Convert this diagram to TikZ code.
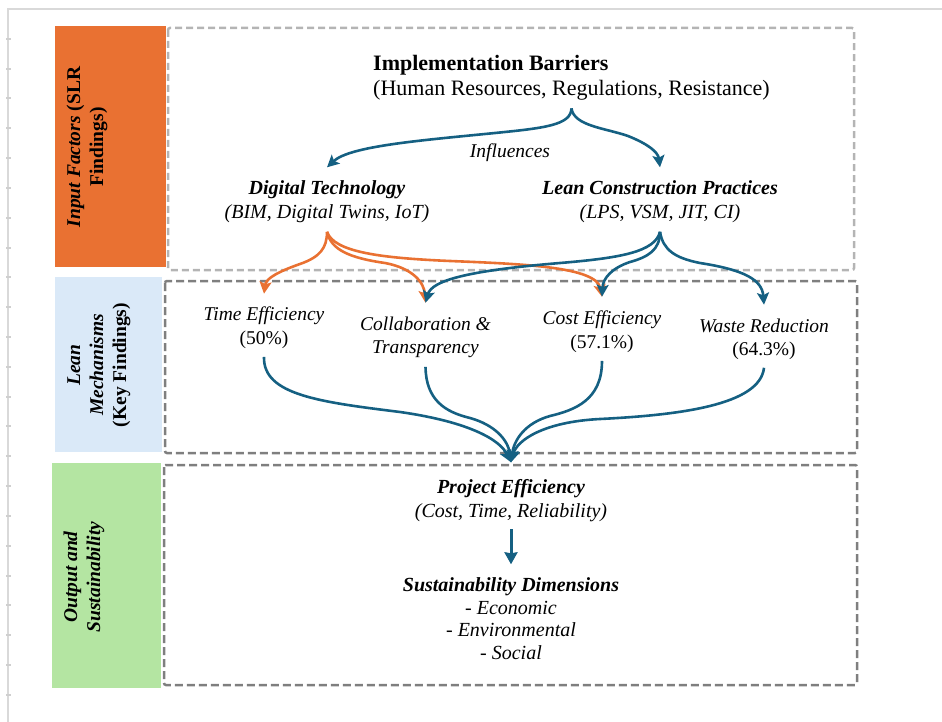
\documentclass[tikz,border=0pt]{standalone}
\usepackage{fontspec}
\setmainfont{Liberation Serif}
\usetikzlibrary{arrows.meta}
\definecolor{accblue}{HTML}{156082}
\definecolor{accorange}{HTML}{E97132}
\definecolor{barblue}{HTML}{DAE9F8}
\definecolor{bargreen}{HTML}{B4E5A2}
\definecolor{lightdash}{HTML}{B4B4B4}
\definecolor{darkdash}{HTML}{7F7F7F}
\definecolor{framegray}{HTML}{D9D9D9}
\definecolor{tickgray}{HTML}{CFCFCF}
\newcommand\fsz[2]{\fontsize{#1}{#2}\selectfont}

\begin{document}
\begin{tikzpicture}[x=1pt,y=-1pt,
  txt/.style={inner sep=0pt, align=center, font=\fsz{20}{24}},
  mech/.style={inner sep=0pt, align=center, font=\fsz{19.5}{24}\itshape},
  side/.style={inner sep=0pt, align=center, rotate=90, font=\fsz{19.5}{23}\bfseries},
  lightbox/.style={draw=lightdash, line width=2.5pt, dash pattern=on 7pt off 4pt, rounded corners=2pt},
  darkbox/.style={draw=darkdash, line width=2.5pt, dash pattern=on 8pt off 4pt, rounded corners=2pt},
  tip/.style={-{Stealth[length=12pt,width=12pt,inset=2.5pt]}},
  bluearr/.style={draw=accblue, line width=2.6pt, tip},
  orangearr/.style={draw=accorange, line width=2.6pt, tip},
]
\useasboundingbox (0,0) rectangle (942,722);

% page frame with ruler ticks
\draw[framegray, line width=2pt] (8,722) -- (8,9) -- (942,9);
\foreach \k in {0,...,22}
  \draw[tickgray, line width=2pt] (6,{38.7+29.83*\k}) -- (10.5,{38.7+29.83*\k});

% layer bars
\fill[accorange] (55,26) rectangle (166,267);
\fill[barblue]   (55,277) rectangle (162,452);
\fill[bargreen]  (52,463) rectangle (161,688);

% layer frames
\draw[lightbox] (168,28) rectangle (854,270);
\draw[darkbox]  (165,281) rectangle (857,453);
\draw[darkbox]  (164,465) rectangle (857,685);

% layer titles
\node[side] (sin) at (87,147) {\textit{Input Factors} (SLR\\Findings)};
\node[side] (slm) at (99,365) {\textit{Lean}\\\textit{Mechanisms}\\(Key Findings)};
\node[side] (sos) at (84,577) {\textit{Output and}\\\textit{Sustainability}};

% input factors
\node[anchor=north west, inner sep=0pt, align=left, font=\fsz{22}{25}] (ib) at (373,55)
  {\textbf{Implementation Barriers}\\(Human Resources, Regulations, Resistance)};
\node[txt, anchor=north, font=\fsz{19.5}{24}\itshape] (inf) at (510,143.7) {Influences};
\node[txt, anchor=north] (dt) at (327,180.3)
  {\textbf{\textit{Digital Technology}}\\\textit{(BIM, Digital Twins, IoT)}};
\node[txt, anchor=north] (lc) at (660,180.3)
  {\textbf{\textit{Lean Construction Practices}}\\\textit{(LPS, VSM, JIT, CI)}};

% lean mechanisms
\node[mech, anchor=north] (te) at (264,306.7) {Time Efficiency\\\upshape(50\%)};
\node[mech, anchor=north, font=\fsz{19.5}{23}\itshape] (co) at (425.5,316.7) {Collaboration \&\\Transparency};
\node[mech, anchor=north] (ce) at (602,310.7) {Cost Efficiency\\\upshape(57.1\%)};
\node[mech, anchor=north, font=\fsz{19.5}{23}\itshape] (wr) at (764,318.7) {Waste Reduction\\\upshape(64.3\%)};

% output
\node[txt, anchor=north] (pe) at (511,479.3)
  {\textbf{\textit{Project Efficiency}}\\\textit{(Cost, Time, Reliability)}};
\node[txt, anchor=north, font=\fsz{20}{22.7}] (sd) at (511,577.3)
  {\textbf{\textit{Sustainability Dimensions}}\\\textit{- Economic}\\\textit{- Environmental}\\\textit{- Social}};

% barriers influence both input factors
\draw[bluearr] ([yshift=-8pt]ib.south) .. controls (571,125) and (545,128) .. (495,133)
  .. controls (420,140.5) and (350,146) .. ([yshift=13pt]dt.north);
\draw[bluearr] ([yshift=-8pt]ib.south) .. controls (574,126) and (605,128) .. (628,136)
  .. controls (648,144) and (658,152) .. ([yshift=13pt]lc.north);

% digital technology feeds mechanisms
\draw[orangearr] ([yshift=-9pt]dt.south) .. controls (327,248) and (320,257) .. (300,264)
  .. controls (280,271) and (266,278) .. ([yshift=13pt]te.north);
\draw[orangearr] ([yshift=-9pt]dt.south) .. controls (331,250) and (350,258) .. (385,263)
  .. controls (412,268) and (424,282) .. ([yshift=14pt]co.north);
\draw[orangearr] ([yshift=-9pt]dt.south) .. controls (334,252) and (380,258) .. (450,261)
  .. controls (525,264) and (596,267) .. ([yshift=14pt]ce.north);

% lean practices feed mechanisms
\draw[bluearr] ([yshift=-9pt]lc.south) .. controls (655,252) and (620,258) .. (560,263)
  .. controls (470,270.5) and (432,280) .. ([yshift=14pt]co.north);
\draw[bluearr] ([yshift=-9pt]lc.south) .. controls (660,250) and (648,257) .. (630,262)
  .. controls (612,268) and (603,278) .. ([yshift=14pt]ce.north);
\draw[bluearr] ([yshift=-9pt]lc.south) .. controls (663,250) and (675,258) .. (700,263)
  .. controls (745,270) and (762,280) .. ([yshift=14pt]wr.north);

% mechanisms converge on project efficiency
\draw[bluearr] ([yshift=-8pt]te.south) .. controls (263,395) and (320,402) .. (400,412)
  .. controls (470,422) and (500,440) .. ([yshift=17pt]pe.north);
\draw[bluearr] ([yshift=-9pt]co.south) .. controls (426,400) and (445,412) .. (470,418)
  .. controls (495,425) and (508,440) .. ([yshift=17pt]pe.north);
\draw[bluearr] ([yshift=-8pt]ce.south) .. controls (602,400) and (575,410) .. (550,416)
  .. controls (525,423) and (514,440) .. ([yshift=17pt]pe.north);
\draw[bluearr] ([yshift=-8pt]wr.south) .. controls (760,405) and (680,415) .. (600,419)
  .. controls (544,421.8) and (517,440) .. ([yshift=17pt]pe.north);

% efficiency leads to sustainability
\draw[accblue, line width=3pt, -{Stealth[length=12pt,width=13pt,inset=1pt]}]
  ([yshift=-7pt]pe.south) -- ([yshift=13pt]sd.north);
\end{tikzpicture}
\end{document}
